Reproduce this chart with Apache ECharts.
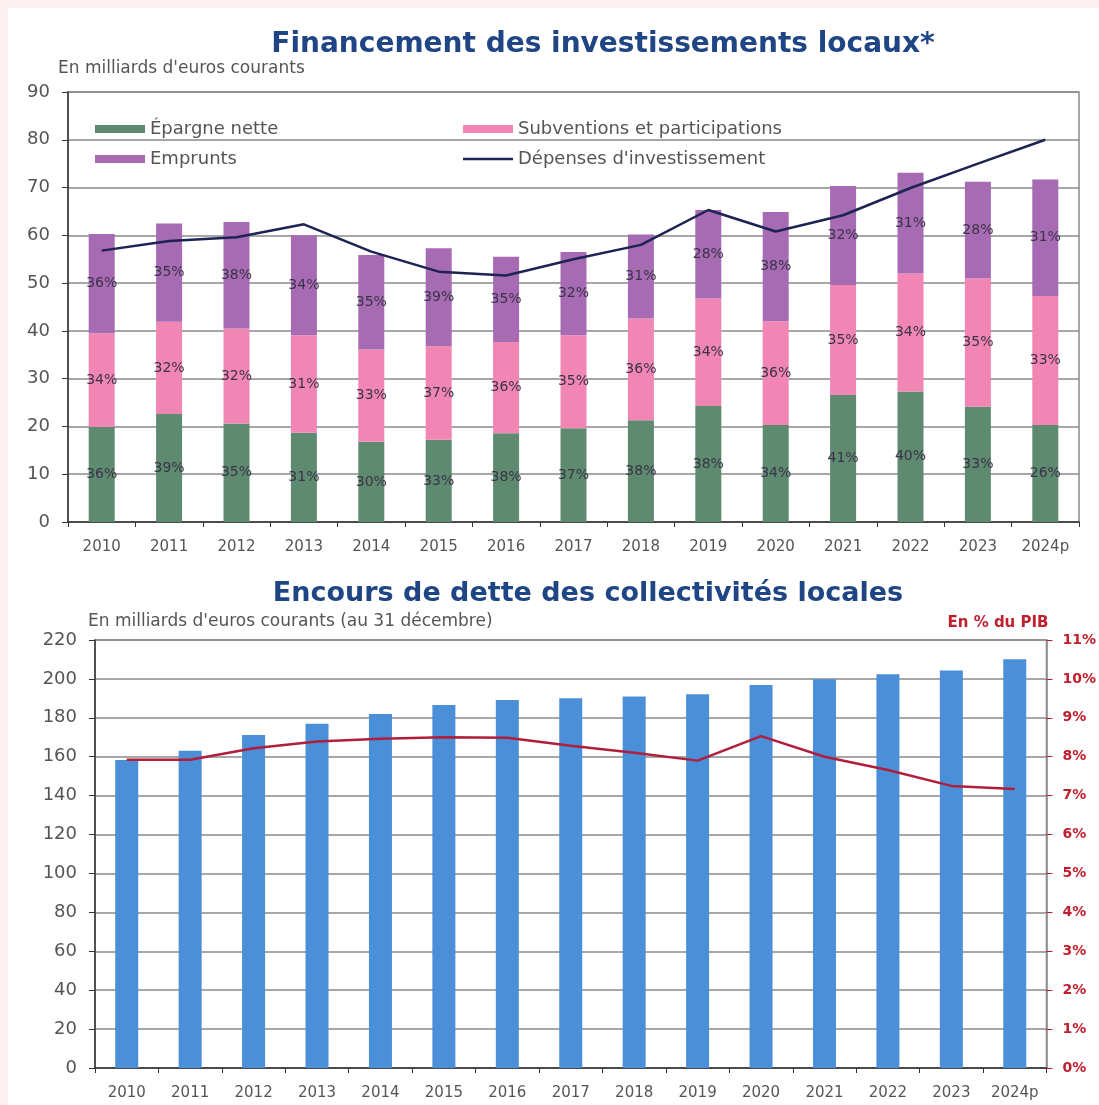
<!DOCTYPE html>
<html>
<head>
<meta charset="utf-8">
<title>Financement des investissements locaux</title>
<script src="https://cdn.jsdelivr.net/npm/echarts@6/dist/echarts.min.js"></script>
<style>
  html, body { margin: 0; padding: 0; background: #fcf0f0; }
  #chart { width: 1099px; height: 1105px; }
</style>
</head>
<body>
<div id="chart"></div>
<script>
// années
const years = ['2010', '2011', '2012', '2013', '2014', '2015', '2016', '2017', '2018', '2019', '2020', '2021', '2022', '2023', '2024p']

// Financement des investissements locaux (Md€)
const epargneNette = [19.9, 22.6, 20.6, 18.7, 16.8, 17.2, 18.6, 19.6, 21.3, 24.3, 20.3, 26.6, 27.3, 24.1, 20.3]
const subventions = [19.6, 19.3, 19.9, 20.4, 19.3, 19.6, 19.1, 19.5, 21.3, 22.5, 21.7, 23.0, 24.7, 26.9, 27.0]
const emprunts = [20.8, 20.6, 22.3, 20.9, 19.8, 20.5, 17.8, 17.4, 17.6, 18.5, 22.9, 20.7, 21.1, 20.2, 24.4]
const depenses = [56.8, 58.8, 59.6, 62.3, 56.6, 52.4, 51.6, 55.0, 58.0, 65.3, 60.8, 64.2, 69.9, 75.0, 80.0]

// parts affichées sur les barres
const epargneLabels = ['36%', '39%', '35%', '31%', '30%', '33%', '38%', '37%', '38%', '38%', '34%', '41%', '40%', '33%', '26%']
const subventionsLabels = ['34%', '32%', '32%', '31%', '33%', '37%', '36%', '35%', '36%', '34%', '36%', '35%', '34%', '35%', '33%']
const empruntsLabels = ['36%', '35%', '38%', '34%', '35%', '39%', '35%', '32%', '31%', '28%', '38%', '32%', '31%', '28%', '31%']

// Encours de dette
const encours = [158.3, 163.1, 171.2, 176.9, 182.0, 186.6, 189.2, 190.1, 190.9, 192.1, 196.9, 199.8, 202.4, 204.3, 210.1]
const dettePib = [7.92, 7.92, 8.22, 8.39, 8.46, 8.50, 8.49, 8.28, 8.10, 7.90, 8.53, 8.00, 7.66, 7.25, 7.17]

const FONT = '"DejaVu Sans", "Noto Sans", sans-serif'
const GRID_COLOR = '#8a8a8a'
const AXIS_COLOR = '#333'
const TEXT_COLOR = '#555'
const TITLE_COLOR = '#1f4585'
const RED = '#c0202e'

const chart = echarts.init(document.getElementById('chart'))

const barLabel = (labels) => ({
  show: true,
  position: 'inside',
  fontFamily: FONT,
  fontSize: 14,
  color: '#3a3348',
  formatter: p => labels[p.dataIndex]
})

const categoryAxis = (gridIndex) => ({
  type: 'category',
  gridIndex,
  data: years,
  axisLine: { lineStyle: { color: AXIS_COLOR, width: 1.5 } },
  axisTick: { show: true, length: 5, lineStyle: { color: AXIS_COLOR } },
  axisLabel: { color: TEXT_COLOR, fontFamily: FONT, fontSize: 15, margin: 18 }
})

const valueAxis = (gridIndex, max, interval) => ({
  type: 'value', gridIndex, min: 0, max, interval,
  axisLine: { show: true, lineStyle: { color: AXIS_COLOR, width: 1.5 } },
  axisTick: { show: true, length: 6, lineStyle: { color: AXIS_COLOR } },
  axisLabel: { color: TEXT_COLOR, fontFamily: FONT, fontSize: 18, margin: 18 },
  splitLine: { lineStyle: { color: GRID_COLOR, width: 1.5 } }
})

const text = (x, y, str, size, color, weight, align) => ({
  type: 'text', x, y,
  style: {
    text: str, fill: color, fontFamily: FONT, fontSize: size, fontWeight: weight,
    align: align || 'left', verticalAlign: 'middle'
  }
})

chart.setOption({
  backgroundColor: '#fcf0f0',
  animation: false,
  graphic: [
    { type: 'rect', left: 8, top: 8, shape: { width: 1091, height: 1097 }, style: { fill: '#fff' }, z: -10 },
    text(603, 45, 'Financement des investissements locaux*', 28, TITLE_COLOR, 'bold', 'center'),
    text(58, 69, "En milliards d'euros courants", 17, TEXT_COLOR, 'normal'),
    text(588, 594, 'Encours de dette des collectivités locales', 27, TITLE_COLOR, 'bold', 'center'),
    text(88, 622, "En milliards d'euros courants (au 31 décembre)", 17, TEXT_COLOR, 'normal'),
    text(998, 623, 'En % du PIB', 15, RED, 'bold', 'center')
  ],
  legend: [
    {
      left: 90, top: 115, orient: 'vertical', itemGap: 12,
      itemWidth: 50, itemHeight: 8,
      textStyle: { fontFamily: FONT, fontSize: 18, color: TEXT_COLOR },
      data: [{ name: 'Épargne nette', icon: 'rect' }, { name: 'Emprunts', icon: 'rect' }]
    },
    {
      left: 458, top: 115, orient: 'vertical', itemGap: 12,
      itemWidth: 50, itemHeight: 8,
      textStyle: { fontFamily: FONT, fontSize: 18, color: TEXT_COLOR },
      data: [
        { name: 'Subventions et participations', icon: 'rect' },
        { name: "Dépenses d'investissement", icon: 'path://M0,0 L50,0 L50,2.5 L0,2.5 Z' }
      ]
    }
  ],
  grid: [
    { left: 68, top: 92, width: 1011, height: 430, show: true, borderColor: GRID_COLOR, borderWidth: 1.5 },
    { left: 95, top: 640, width: 954, height: 428, show: true, borderColor: GRID_COLOR, borderWidth: 1.5 }
  ],
  xAxis: [categoryAxis(0), categoryAxis(1)],
  yAxis: [
    valueAxis(0, 90, 10),
    valueAxis(1, 220, 20),
    {
      type: 'value', gridIndex: 1, position: 'right', min: 0, max: 11, interval: 1,
      axisLine: { show: true, lineStyle: { color: GRID_COLOR, width: 1.5 } },
      axisTick: { show: true, length: 6, lineStyle: { color: RED } },
      axisLabel: { color: RED, fontFamily: FONT, fontSize: 14, fontWeight: 'bold', margin: 16, formatter: '{value}%' },
      splitLine: { show: false }
    }
  ],
  series: [
    {
      name: 'Épargne nette', type: 'bar', stack: 'fin', xAxisIndex: 0, yAxisIndex: 0,
      barWidth: 26, data: epargneNette,
      itemStyle: { color: '#5e8a70' },
      label: barLabel(epargneLabels)
    },
    {
      name: 'Subventions et participations', type: 'bar', stack: 'fin', xAxisIndex: 0, yAxisIndex: 0,
      barWidth: 26, data: subventions,
      itemStyle: { color: '#f186b4' },
      label: barLabel(subventionsLabels)
    },
    {
      name: 'Emprunts', type: 'bar', stack: 'fin', xAxisIndex: 0, yAxisIndex: 0,
      barWidth: 26, data: emprunts,
      itemStyle: { color: '#a66bb3' },
      label: barLabel(empruntsLabels)
    },
    {
      name: "Dépenses d'investissement", type: 'line', xAxisIndex: 0, yAxisIndex: 0,
      data: depenses, symbol: 'none', z: 5,
      lineStyle: { color: '#1d2352', width: 2.5 },
      itemStyle: { color: '#1d2352' }
    },
    {
      name: 'Encours', type: 'bar', xAxisIndex: 1, yAxisIndex: 1,
      barWidth: 23, data: encours,
      itemStyle: { color: '#4a8fd8' }
    },
    {
      name: 'En % du PIB', type: 'line', xAxisIndex: 1, yAxisIndex: 2,
      data: dettePib, symbol: 'none', z: 5,
      lineStyle: { color: '#b01e3c', width: 2.5 }
    }
  ]
})
</script>
</body>
</html>
